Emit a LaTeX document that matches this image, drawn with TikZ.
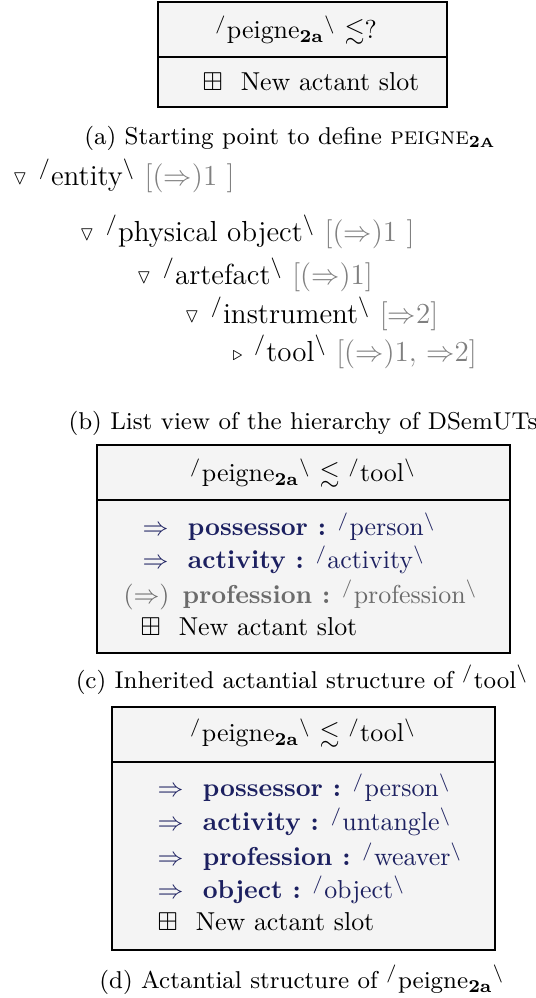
\documentclass[tikz,border=0pt]{standalone}
\usepackage{amssymb}
\usepackage{tikz}

\definecolor{slotnavy}{RGB}{28,32,96}
\definecolor{inherited}{gray}{0.42}
\definecolor{hiergray}{gray}{0.5}
\definecolor{boxfill}{gray}{0.955}

\newcommand{\sem}[1]{$^{/}$#1$^{\backslash}$}
\newcommand{\peigne}{peigne$_{\mathbf{2a}}$}
\newcommand{\slotrow}[2]{\textcolor{slotnavy}{$\Rightarrow$\hspace{0.75em}\textbf{#1 :} \sem{#2}}}
\newcommand{\newslot}{$\boxplus$\hspace{0.7em}New actant slot}
\newcommand{\opened}{\raisebox{0.3pt}{\scalebox{0.7}{$\triangledown$}}\hspace{0.4em}}
\newcommand{\closed}{\raisebox{0.3pt}{\scalebox{0.7}{$\triangleright$}}\hspace{0.4em}}

\tikzset{
  framebox/.style={line width=1pt, fill=boxfill},
  divider/.style={line width=0.8pt},
  boxtext/.style={inner sep=0pt, anchor=west, font=\fontsize{10}{12}\selectfont},
  headtext/.style={inner sep=0pt, font=\fontsize{10}{12}\selectfont},
  captext/.style={inner sep=0pt, font=\fontsize{9.4}{11}\selectfont},
  hiertext/.style={inner sep=0pt, anchor=west, font=\fontsize{11.2}{13}\selectfont},
}

\begin{document}
\begin{tikzpicture}[x=0.3861pt,y=-0.3861pt]
\useasboundingbox (0,0) rectangle (535,998);

% (a) starting point
\draw[framebox] (158,2) rectangle (447,107);
\draw[divider] (158,57) -- (447,57);
\node[headtext] (headA) at (296,30) {\sem{\peigne} $\lesssim$?};
\node[boxtext] (newA) at (202,82) {\newslot};
\node[captext] (capA) at (290,138)
  {(a) Starting point to define \textsc{peigne}\textsubscript{\textbf{2{\tiny A}}}};

% (b) hierarchy
\node[hiertext] (entity) at (12,176)
  {\opened\sem{entity} \textcolor{hiergray}{[($\Rightarrow$)1 ]}};
\node[hiertext] (physobj) at (79,232)
  {\opened\sem{physical object} \textcolor{hiergray}{[($\Rightarrow$)1 ]}};
\node[hiertext] (artefact) at (136,275)
  {\opened\sem{artefact} \textcolor{hiergray}{[($\Rightarrow$)1]}};
\node[hiertext] (instrument) at (184,314)
  {\opened\sem{instrument} \textcolor{hiergray}{[$\Rightarrow$2]}};
\node[hiertext] (tool) at (232,352)
  {\closed\sem{tool} \textcolor{hiergray}{[($\Rightarrow$)1, $\Rightarrow$2]}};
\node[captext] (capB) at (303,423) {(b) List view of the hierarchy of DSemUTs};

% (c) inherited structure
\draw[framebox] (97,445) rectangle (510,653);
\draw[divider] (97,500) -- (510,500);
\node[headtext] (headC) at (303,473) {\sem{\peigne} $\lesssim$ \sem{tool}};
\node[boxtext] (possC) at (142,527) {\slotrow{possessor}{person}};
\node[boxtext] (actC) at (142,560) {\slotrow{activity}{activity}};
\node[boxtext] (profC) at (123,595)
  {\textcolor{inherited}{($\Rightarrow$)\hspace{0.5em}\textbf{profession :} \sem{profession}}};
\node[boxtext] (newC) at (140,627) {\newslot};
\node[captext] (capC) at (302,680) {(c) Inherited actantial structure of \sem{tool}};

% (d) actantial structure
\draw[framebox] (112,707) rectangle (495,950);
\draw[divider] (112,762) -- (495,762);
\node[headtext] (headD) at (303,733) {\sem{\peigne} $\lesssim$ \sem{tool}};
\node[boxtext] (possD) at (157,788) {\slotrow{possessor}{person}};
\node[boxtext] (actD) at (157,822) {\slotrow{activity}{untangle}};
\node[boxtext] (profD) at (157,857) {\slotrow{profession}{weaver}};
\node[boxtext] (objD) at (157,890) {\slotrow{object}{object}};
\node[boxtext] (newD) at (157,922) {\newslot};
\node[captext] (capD) at (302,980) {(d) Actantial structure of \sem{\peigne}};
\end{tikzpicture}
\end{document}
